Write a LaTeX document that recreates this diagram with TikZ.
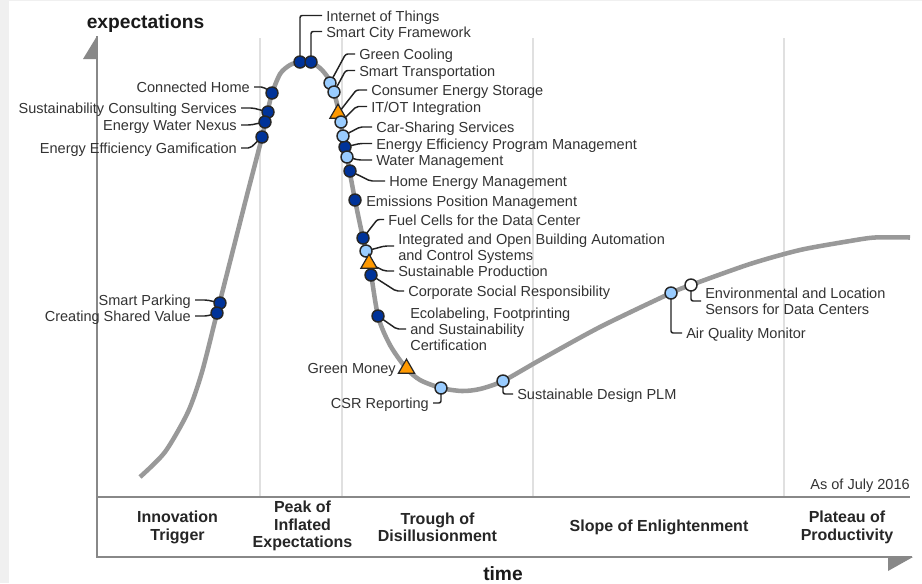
\documentclass[tikz,border=0pt]{standalone}
\usepackage{fontspec}
\setmainfont{Liberation Sans}
\usetikzlibrary{shapes.geometric,backgrounds,calc}
\definecolor{inktext}{HTML}{333333}
\definecolor{leadink}{HTML}{222222}
\definecolor{dotdark}{HTML}{003399}
\definecolor{dotlight}{HTML}{99CCFF}
\definecolor{triorange}{HTML}{FF9900}
\definecolor{axisgray}{HTML}{888888}
\definecolor{sepgray}{HTML}{E0E0E0}
\definecolor{curvegray}{HTML}{999999}
\definecolor{pagegray}{HTML}{F0F0F0}
\newcommand{\LB}[1]{\raisebox{-1.5pt}{#1}}
\tikzset{
  dotbase/.style={circle,draw=black!85,line width=1.1pt,minimum size=9pt,inner sep=0pt},
  dkdot/.style={dotbase,fill=dotdark},
  ltdot/.style={dotbase,fill=dotlight},
  whdot/.style={dotbase,fill=white},
  tri/.style={regular polygon,regular polygon sides=3,draw=black!85,line width=0.9pt,fill=triorange,minimum size=14pt,inner sep=0pt},
  lbl/.style={text=inktext,font=\fontsize{10.9}{12}\selectfont,inner xsep=3pt,inner ysep=0pt,align=left},
  rlbl/.style={lbl,anchor=mid west},
  llbl/.style={lbl,anchor=mid east},
  mlbl/.style={lbl,anchor=west},
  phase/.style={text=black!85,font=\fontsize{12}{13}\selectfont\bfseries,align=center,inner sep=0pt},
  axlbl/.style={text=black!90,font=\fontsize{14.4}{16}\selectfont\bfseries,inner sep=0pt},
  lead/.style={draw=leadink,line width=1.1pt,rounded corners=1.6pt},
  sep/.style={draw=sepgray,line width=1.1pt},
  axisln/.style={draw=axisgray,line width=1.2pt},
  axishead/.style={fill=axisgray,draw=none},
  hype/.style={draw=curvegray,line width=3.4pt}
}
\begin{document}
\begin{tikzpicture}[x=0.75pt,y=-0.75pt]
\useasboundingbox (0,0) rectangle (922,583);
% markers
\node[dkdot] (m01) at (220,303) {};
\node[dkdot] (m02) at (217,313) {};
\node[dkdot] (m03) at (262,137) {};
\node[dkdot] (m05) at (268,112) {};
\node[dkdot] (m04) at (265,122) {};
\node[dkdot] (m06) at (272,93) {};
\node[dkdot] (m07) at (300,62) {};
\node[dkdot] (m08) at (311,62) {};
\node[ltdot] (m09) at (330,83) {};
\node[ltdot] (m10) at (334,92) {};
\node[tri]   (m11) at (338,113.5) {};
\node[ltdot] (m12) at (341,122) {};
\node[dkdot] (m14) at (345,147) {};
\node[ltdot] (m13) at (343,136) {};
\node[ltdot] (m15) at (347,157) {};
\node[dkdot] (m16) at (350,171) {};
\node[dkdot] (m17) at (355,200) {};
\node[ltdot] (m19) at (366,251) {};
\node[dkdot] (m18) at (363,238) {};
\node[tri]   (m20) at (369,263.5) {};
\node[dkdot] (m21) at (371,275) {};
\node[dkdot] (m22) at (378,316) {};
\node[tri]   (m23) at (406.5,368.5) {};
\node[ltdot] (m24) at (441,388) {};
\node[ltdot] (m25) at (503,381) {};
\node[ltdot] (m26) at (671,293) {};
\node[whdot] (m27) at (691,285) {};
% labels
\node[llbl] (l01) at (195,300) {\LB{Smart Parking}};
\node[llbl] (l02) at (195,316) {\LB{Creating Shared Value}};
\node[llbl] (l03) at (241,148) {\LB{Energy Efficiency Gamification}};
\node[llbl] (l04) at (241,125) {\LB{Energy Water Nexus}};
\node[llbl] (l05) at (241,108) {\LB{Sustainability Consulting Services}};
\node[llbl] (l06) at (254,87) {\LB{Connected Home}};
\node[rlbl] (l07) at (322,15.5) {\LB{Internet of Things}};
\node[rlbl] (l08) at (322,31.5) {\LB{Smart City Framework}};
\node[rlbl] (l09) at (355,54) {\LB{Green Cooling}};
\node[rlbl] (l10) at (355,70.5) {\LB{Smart Transportation}};
\node[rlbl] (l11) at (367,90) {\LB{Consumer Energy Storage}};
\node[rlbl] (l12) at (367,106.5) {\LB{IT/OT Integration}};
\node[rlbl] (l13) at (372,127) {\LB{Car-Sharing Services}};
\node[rlbl] (l14) at (372,143.5) {\LB{Energy Efficiency Program Management}};
\node[rlbl] (l15) at (372,160) {\LB{Water Management}};
\node[rlbl] (l16) at (385,181) {\LB{Home Energy Management}};
\node[rlbl] (l17) at (362,200.5) {\LB{Emissions Position Management}};
\node[rlbl] (l18) at (384,219.5) {\LB{Fuel Cells for the Data Center}};
\node[mlbl] (l19) at (394,249) {Integrated and Open Building Automation\\and Control Systems};
\node[rlbl] (l20) at (394,271) {\LB{Sustainable Production}};
\node[rlbl] (l21) at (404,291) {\LB{Corporate Social Responsibility}};
\node[mlbl] (l22) at (406,329) {Ecolabeling, Footprinting\\and Sustainability\\Certification};
\node[llbl] (l23) at (400,368) {\LB{Green Money}};
\node[llbl] (l24) at (433,403) {\LB{CSR Reporting}};
\node[rlbl] (l25) at (513,394) {\LB{Sustainable Design PLM}};
\node[rlbl] (l26) at (682,333) {\LB{Air Quality Monitor}};
\node[mlbl] (l27) at (701,301) {Environmental and Location\\Sensors for Data Centers};
\node[lbl,anchor=mid east,inner xsep=0pt] (asof) at (910,486) {As of July 2016};
% axis labels and phases
\node[axlbl] (ylab) at (145.5,23.5) {expectations};
\node[axlbl] (xlab) at (503,573.5) {time};
\node[phase] (p1) at (177.5,527.5) {Innovation\\Trigger};
\node[phase] (p2) at (302.5,526) {Peak of\\Inflated\\Expectations};
\node[phase] (p3) at (437.5,527.5) {Trough of\\Disillusionment};
\node[phase] (p4) at (659,527.5) {Slope of Enlightenment};
\node[phase] (p5) at (847,527.5) {Plateau of\\Productivity};
\begin{pgfonlayer}{background}
  \fill[pagegray] (0,0) rectangle (922,583);
  \fill[white] (9,1) rectangle (922,583);
  % phase separators
  \coordinate (axtop) at (97,36);
  \coordinate (axmid) at (97,497);
  \coordinate (axbot) at (97,557);
  \coordinate (axmidr) at (910,497);
  \coordinate (axbotr) at (912,557);
  \foreach \sx in {260,342,533,784} \draw[sep] (\sx,38) -- (\sx,497);
  \draw[axisln] (axtop) -- (axbot) -- (axbotr);
  \draw[axisln] (axmid) -- (axmidr);
  \fill[axishead] (97,36) -- (83,59) -- (97.5,59) -- cycle;
  \fill[axishead] (913,557) -- (888,571) -- (888,556.5) -- cycle;
  % hype curve
  \draw[hype] plot[smooth,tension=0.45] coordinates {(140,477) (165,452) (188,412) (202,372) (217,313) (232,254) (247,195) (262,137) (271,97) (280,74) (290,65) (300,62) (311,62) (322,70) (331,83) (338,108) (343,136) (347,157) (355,200) (363,238) (369,261) (378,316) (390,345) (406,368) (420,380) (441,388) (462,391) (480,389) (503,381) (540,360) (600,327) (671,293) (691,285) (750,264) (800,250) (850,241) (875,237.5) (910,237.5)};
  % leaders
  \draw[lead] (m01.center) -- ([xshift=9pt]l01.mid east) -- (l01.mid east);
  \draw[lead] (m02.center) -- ([xshift=9pt]l02.mid east) -- (l02.mid east);
  \draw[lead] (m03.center) -- ([xshift=7pt]l03.mid east) -- (l03.mid east);
  \draw[lead] (m04.center) -- ([xshift=7pt]l04.mid east) -- (l04.mid east);
  \draw[lead] (m05.center) -- ([xshift=9pt]l05.mid east) -- (l05.mid east);
  \draw[lead] (m06.center) -- ([xshift=7pt]l06.mid east) -- (l06.mid east);
  \draw[lead] (m07.center) |- (l07.mid west);
  \draw[lead] (m08.center) |- (l08.mid west);
  \draw[lead] (m09.center) -- ([xshift=-7pt]l09.mid west) -- (l09.mid west);
  \draw[lead] (m10.center) -- ([xshift=-7pt]l10.mid west) -- (l10.mid west);
  \draw[lead] (m11.center) -- ([xshift=-8pt]l11.mid west) -- (l11.mid west);
  \draw[lead] (m12.center) -- ([xshift=-8pt]l12.mid west) -- (l12.mid west);
  \draw[lead] (m13.center) -- ([xshift=-9pt]l13.mid west) -- (l13.mid west);
  \draw[lead] (m14.center) -- ([xshift=-9pt]l14.mid west) -- (l14.mid west);
  \draw[lead] (m15.center) -- ([xshift=-10pt]l15.mid west) -- (l15.mid west);
  \draw[lead] (m16.center) -- ([xshift=-11pt]l16.mid west) -- (l16.mid west);
  \draw[lead] (m18.center) -- ([xshift=-5pt]l18.mid west) -- (l18.mid west);
  \draw[lead] (m19.center) -- ([xshift=-7pt,yshift=2.25pt]l19.west) -- ([yshift=2.25pt]l19.west);
  \draw[lead] (m20.center) -- ([xshift=-7pt]l20.mid west) -- (l20.mid west);
  \draw[lead] (m21.center) -- ([xshift=-6pt]l21.mid west) -- (l21.mid west);
  \draw[lead] (m22.center) -- ([xshift=-7pt]l22.west) -- (l22.west);
  \draw[lead] (m24.center) |- (l24.mid east);
  \draw[lead] (m25.center) |- (l25.mid west);
  \draw[lead] (m26.center) |- (l26.mid west);
  \draw[lead] (m27.center) |- (l27.west);
\end{pgfonlayer}
\end{tikzpicture}
\end{document}
